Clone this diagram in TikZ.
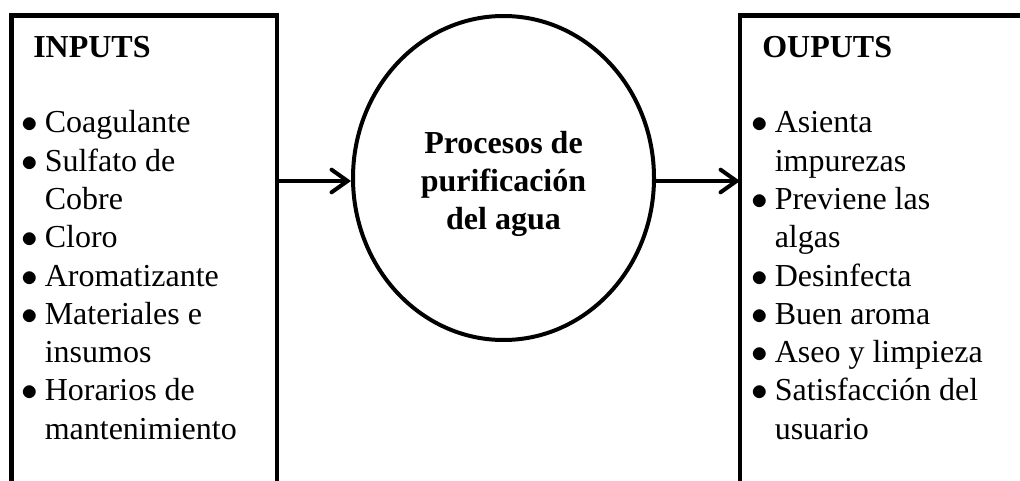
\documentclass[tikz,border=0pt]{standalone}
\usepackage{fontspec}
\setmainfont{Liberation Serif}
\usetikzlibrary{shapes.geometric, arrows.meta, positioning}
\newcommand\bodysize{\fontsize{24}{28.7}\selectfont}
\newcommand\bl{\makebox[17.25pt][l]{$\bullet$}}

\begin{document}
\begin{tikzpicture}[x=0.75pt, y=-0.75pt,
    panel/.style={draw, line width=3.5pt, anchor=north west, inner sep=0pt,
                  outer sep=0pt, minimum height=380pt},
    heading/.style={anchor=base west, inner sep=0pt, font=\bodysize\bfseries},
    bullets/.style={anchor=base west, inner sep=0pt, font=\bodysize},
    flow/.style={line width=3pt, -{Straight Barb[length=12pt, width=17pt, line cap=round]}}
]
    \clip (0,0) rectangle (1020,481);
    \node[panel, minimum width=199pt] (inputs) at (11.5,15.5) {};
    \node[panel, minimum width=225pt] (outputs) at (740,15.5) {};
    \node[draw, ellipse, line width=3pt, minimum width=225.75pt, minimum height=243pt,
          inner sep=0pt] (proc) at (503.5,178) {};
    \node[align=center, font=\bodysize\bfseries, yshift=-4.5pt] (proctext) at (proc.center)
          {Procesos de\\purificación\\del agua};

    \node[heading] (intitle) at (33,58) {INPUTS};
    \node[heading] (outtitle) at (762,58) {OUPUTS};

    \node[bullets] (inlist) at (21.5,133) {\begin{tabular}[t]{@{}l@{}}
        \bl Coagulante\\
        \bl Sulfato de\\
        \hspace*{17.25pt}Cobre\\
        \bl Cloro\\
        \bl Aromatizante\\
        \bl Materiales e\\
        \hspace*{17.25pt}insumos\\
        \bl Horarios de\\
        \hspace*{17.25pt}mantenimiento
    \end{tabular}};
    \node[bullets] (outlist) at (751.5,133) {\begin{tabular}[t]{@{}l@{}}
        \bl Asienta\\
        \hspace*{17.25pt}impurezas\\
        \bl Previene las\\
        \hspace*{17.25pt}algas\\
        \bl Desinfecta\\
        \bl Buen aroma\\
        \bl Aseo y limpieza\\
        \bl Satisfacción del\\
        \hspace*{17.25pt}usuario
    \end{tabular}};

    \draw[flow] ([yshift=-2.25pt]proc.west -| inputs.east) -- ([yshift=-2.25pt]proc.west);
    \draw[flow] ([yshift=-2.25pt]proc.east) -- ([yshift=-2.25pt]proc.east -| outputs.west);
\end{tikzpicture}
\end{document}
